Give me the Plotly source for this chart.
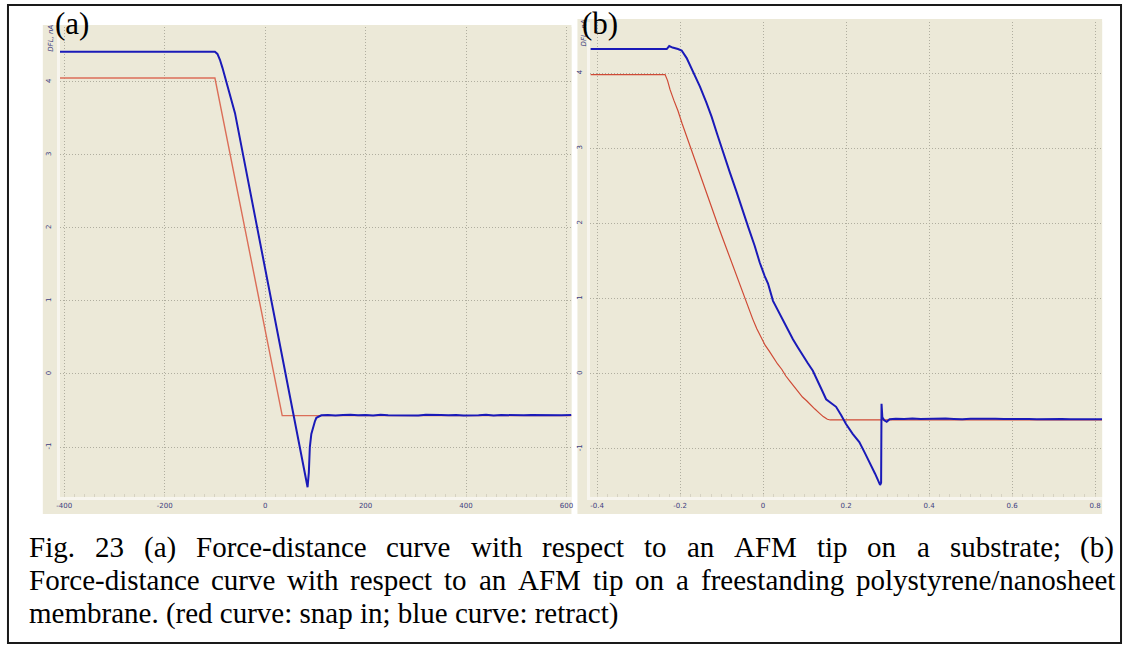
import plotly.graph_objects as go

W, H = 1128, 648

# ---------------- data ----------------
# (a) AFM tip on a substrate, x in nm, deflection in nA
snap_a_x = [-409, -100, 34, 610]
snap_a_y = [4.05, 4.05, -0.57, -0.57]

retract_a_x = [-409, -100, -95, -90, -85, -80, -70, -60, -20, 20, 56, 84.5, 87, 89, 92, 95.6, 99, 102, 107,
               112, 125, 140, 155, 170, 185, 200, 215, 230, 245, 260, 275, 290, 305, 320, 335, 350, 365, 380,
               395, 410, 425, 440, 455, 470, 485, 500, 515, 530, 545, 560, 575, 590, 610]
retract_a_y = [4.41, 4.41, 4.38, 4.30, 4.19, 4.06, 3.83, 3.57, 2.15, 0.73, -0.54, -1.55, -1.35, -1.0, -0.82, -0.72,
               -0.65, -0.60, -0.58,
               -0.565, -0.560, -0.568, -0.562, -0.558, -0.566, -0.561, -0.570, -0.559, -0.564, -0.567, -0.560,
               -0.563, -0.569, -0.558, -0.565, -0.562, -0.566, -0.560, -0.568, -0.561, -0.564, -0.559, -0.567,
               -0.562, -0.565, -0.560, -0.566, -0.563, -0.561, -0.567, -0.562, -0.564, -0.563]

# (b) AFM tip on a freestanding polystyrene/nanosheet membrane, x in um
snap_b_x = [-0.416, -0.236, -0.230, -0.224, -0.215, -0.205, -0.195, -0.185, -0.175, -0.165, -0.155, -0.145,
            -0.135, -0.125, -0.115, -0.105, -0.095, -0.085, -0.075, -0.065, -0.055, -0.045, -0.035, -0.025,
            -0.015, -0.005, 0.005, 0.015, 0.025, 0.035, 0.045, 0.055, 0.065, 0.075, 0.085, 0.095, 0.105,
            0.115, 0.125, 0.135, 0.145, 0.155, 0.162, 0.817]
snap_b_y = [3.98, 3.98, 3.90, 3.78, 3.64, 3.50, 3.33, 3.17, 3.02, 2.86, 2.69, 2.55, 2.39, 2.22, 2.08, 1.92,
            1.77, 1.62, 1.47, 1.33, 1.18, 1.03, 0.86, 0.73, 0.60, 0.49, 0.38, 0.30, 0.21, 0.13, 0.06, -0.03,
            -0.10, -0.17, -0.25, -0.31, -0.36, -0.42, -0.47, -0.52, -0.57, -0.605, -0.615, -0.615]

retract_b_x = [-0.416, -0.232, -0.226, -0.218, -0.205, -0.196, -0.184, -0.168, -0.152, -0.136, -0.124, -0.11,
               -0.095, -0.08, -0.065, -0.05, -0.035, -0.02, -0.008, 0.004, 0.012, 0.024, 0.036, 0.048, 0.06,
               0.072, 0.084, 0.096, 0.108, 0.12, 0.131, 0.142, 0.152, 0.164, 0.176, 0.188, 0.2, 0.216, 0.232,
               0.245, 0.259, 0.27, 0.282, 0.2845, 0.2855, 0.2875, 0.292, 0.298,
               0.305, 0.32, 0.34, 0.36, 0.38, 0.40, 0.42, 0.44, 0.46, 0.48, 0.50, 0.52, 0.54, 0.56, 0.58, 0.60,
               0.62, 0.64, 0.66, 0.68, 0.70, 0.72, 0.74, 0.76, 0.78, 0.80, 0.817]
retract_b_y = [4.32, 4.32, 4.36, 4.34, 4.32, 4.30, 4.20, 4.02, 3.82, 3.60, 3.42, 3.18, 2.92, 2.68, 2.44, 2.18,
               1.94, 1.70, 1.48, 1.30, 1.20, 0.97, 0.84, 0.71, 0.58, 0.46, 0.35, 0.24, 0.14, 0.04, -0.10,
               -0.22, -0.34, -0.39, -0.44, -0.55, -0.67, -0.80, -0.91, -1.05, -1.20, -1.33, -1.48, -1.45,
               -0.40, -0.58, -0.62, -0.64,
               -0.605, -0.598, -0.602, -0.596, -0.603, -0.599, -0.604, -0.597, -0.601, -0.605, -0.598, -0.602,
               -0.606, -0.600, -0.603, -0.599, -0.604, -0.601, -0.606, -0.603, -0.605, -0.602, -0.606, -0.604,
               -0.607, -0.605, -0.606]

# tick labels
xticks_a = [-400, -200, 0, 200, 400, 600]
xticks_b = [-0.4, -0.2, 0, 0.2, 0.4, 0.6, 0.8]
xtext_b = ["-0.4", "-0.2", "0", "0.2", "0.4", "0.6", "0.8"]
yticks = [-1, 0, 1, 2, 3, 4]

caption_lines = [
    "Fig. 23 (a) Force-distance curve with respect to an AFM tip on a substrate; (b)",
    "Force-distance curve with respect to an AFM tip on a freestanding polystyrene/nanosheet",
    "membrane. (red curve: snap in; blue curve: retract)",
]

# ---------------- styling ----------------
PANEL = "#ECE9D8"
GRID = "#B0AE9F"
TICKC = "#3D3D80"
BLUE = "#1A1AB8"
RED_A = "#DB6E58"
RED_B = "#CF4A35"


def px(x):
    return x / W


def py(y):
    return 1 - y / H


fig = go.Figure()
fig.add_trace(go.Scatter(x=snap_a_x, y=snap_a_y, mode="lines", line=dict(color=RED_A, width=1.4),
                         xaxis="x", yaxis="y"))
fig.add_trace(go.Scatter(x=retract_a_x, y=retract_a_y, mode="lines", line=dict(color=BLUE, width=2),
                         xaxis="x", yaxis="y"))
fig.add_trace(go.Scatter(x=snap_b_x, y=snap_b_y, mode="lines", line=dict(color=RED_B, width=1.2),
                         xaxis="x2", yaxis="y2"))
fig.add_trace(go.Scatter(x=retract_b_x, y=retract_b_y, mode="lines", line=dict(color=BLUE, width=2),
                         xaxis="x2", yaxis="y2"))

axis_common = dict(
    showgrid=True, gridcolor=GRID, gridwidth=1, griddash="1px,2px", zeroline=False,
    showline=True, linecolor="#F7F5EE", linewidth=3,
    tickfont=dict(family="DejaVu Sans", size=7, color=TICKC),
    ticks="", fixedrange=True,
)

fig.update_layout(
    width=W, height=H,
    margin=dict(l=0, r=0, t=0, b=0),
    paper_bgcolor="white",
    plot_bgcolor=PANEL,
    showlegend=False,
    xaxis=dict(domain=[px(57), px(571)], range=[-409, 610], tickvals=xticks_a,
               ticktext=[str(v) for v in xticks_a], anchor="y",
               minor=dict(ticks="inside", ticklen=3, tickcolor="#D6D2C2", dtick=20, showgrid=False),
               **axis_common),
    yaxis=dict(domain=[py(497), py(27)], range=[-1.684, 4.749], tickvals=yticks,
               ticktext=[str(v) for v in yticks], tickangle=-90, anchor="x", ticklabelstandoff=3,
               **axis_common),
    xaxis2=dict(domain=[px(590), px(1104)], range=[-0.416, 0.817], tickvals=xticks_b,
                ticktext=xtext_b, anchor="y2",
                minor=dict(ticks="inside", ticklen=3, tickcolor="#D6D2C2", dtick=0.025, showgrid=False),
                **axis_common),
    yaxis2=dict(domain=[py(497), py(22)], range=[-1.64, 4.68], tickvals=yticks,
                ticktext=[str(v) for v in yticks], tickangle=-90, anchor="x2", ticklabelstandoff=3,
                **axis_common),
)

# panel backgrounds and outer frame
shapes = [
    dict(type="rect", xref="paper", yref="paper", x0=px(40), x1=px(571), y0=py(514), y1=py(25),
         fillcolor=PANEL, line=dict(width=0), layer="below"),
    dict(type="rect", xref="paper", yref="paper", x0=px(577), x1=px(1104), y0=py(514), y1=py(19),
         fillcolor=PANEL, line=dict(width=0), layer="below"),
    dict(type="rect", xref="paper", yref="paper", x0=px(5), x1=px(1123), y0=py(643), y1=py(5),
         fillcolor="rgba(0,0,0,0)", line=dict(color="#1a1a1a", width=2), layer="above"),
]
fig.update_layout(shapes=shapes)

annotations = []
# axis caption of the deflection signal
for xx, yy in [(48, 38), (584, 33)]:
    annotations.append(dict(xref="paper", yref="paper", x=px(xx), y=py(yy), text="<i>DFL, nA</i>",
                            showarrow=False, textangle=-90,
                            font=dict(family="DejaVu Sans", size=7, color=TICKC),
                            xanchor="center", yanchor="middle"))
# panel letters
for xx, txt in [(50, "(a)"), (580, "(b)")]:
    annotations.append(dict(xref="paper", yref="paper", x=px(xx), y=py(23), text=txt, showarrow=False,
                            font=dict(family="Liberation Serif", size=31, color="black"),
                            xanchor="left", yanchor="middle"))

# figure caption, justified word by word with Times metrics
TIMES = {" ": 250, "(": 333, ")": 333, ",": 250, "-": 333, ".": 250, "/": 278, ":": 278, ";": 278,
         "A": 722, "F": 556, "M": 889, "a": 444, "b": 500, "c": 444, "d": 500, "e": 444, "f": 333,
         "g": 500, "h": 500, "i": 278, "l": 278, "m": 778, "n": 500, "o": 500, "p": 500, "r": 333,
         "s": 389, "t": 278, "u": 500, "v": 500, "w": 722, "y": 500}
CAP_SIZE = 29
LEFT, RIGHT = 24, 1114
line_y = [547, 580, 613]


def word_width(w):
    return sum(TIMES.get(ch, 500) for ch in w) / 1000 * CAP_SIZE


for i, line in enumerate(caption_lines):
    words = line.split(" ")
    if i < 2:
        total = sum(word_width(w) for w in words)
        gap = (RIGHT - LEFT - total) / (len(words) - 1)
        xcur = LEFT
        for w in words:
            annotations.append(dict(xref="paper", yref="paper", x=px(xcur), y=py(line_y[i]), text=w,
                                    showarrow=False, xanchor="left", yanchor="middle",
                                    font=dict(family="Liberation Serif", size=CAP_SIZE, color="black")))
            xcur += word_width(w) + gap
    else:
        annotations.append(dict(xref="paper", yref="paper", x=px(LEFT), y=py(line_y[i]), text=line,
                                showarrow=False, xanchor="left", yanchor="middle",
                                font=dict(family="Liberation Serif", size=CAP_SIZE, color="black")))
fig.update_layout(annotations=annotations)

fig.write_html("out.html")
